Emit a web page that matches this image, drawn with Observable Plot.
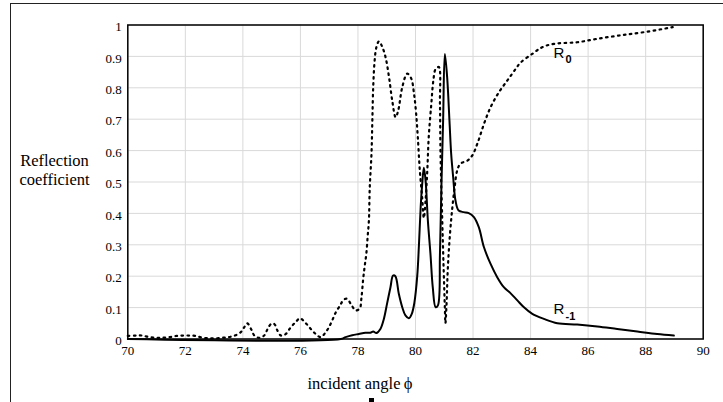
<!DOCTYPE html>
<html>
<head>
<meta charset="utf-8">
<script src="https://cdn.jsdelivr.net/npm/d3@7"></script>
<script src="https://cdn.jsdelivr.net/npm/@observablehq/plot@0.6"></script>
<style>
  html, body { margin: 0; padding: 0; background: #fff; }
  #wrap { position: relative; width: 723px; height: 402px; overflow: hidden; background: #fff; }
  #outer { position: absolute; left: 10px; top: 3px; width: 800px; height: 500px; border-left: 1px solid #222; border-top: 1px solid #222; }
  #chart { position: absolute; left: 0; top: 0; }
  #chart g[aria-label$="tick label"] { font-family: "Liberation Serif", "Times New Roman", serif; }
  .lbl { position: absolute; font-family: "Liberation Serif", "Times New Roman", serif; font-size: 16px; color: #000; white-space: nowrap; }
  #ylab { left: 0; width: 109px; top: 151px; line-height: 19px; text-align: center; font-size: 16.5px; }
  #xlab { left: 250px; width: 220px; top: 375.6px; line-height: 16px; text-align: center; font-size: 16.5px; }
  #tick { position: absolute; left: 369px; top: 398px; width: 5px; height: 5px; background: #000; }
</style>
</head>
<body>
<div id="wrap">
  <div id="outer"></div>
  <div id="chart"></div>
  <div class="lbl" id="ylab">Reflection<br>coefficient</div>
  <div class="lbl" id="xlab">incident angle&#8201;ϕ</div>
  <div id="tick"></div>
</div>
<script>
// Tick values
const xTicks = [70, 72, 74, 76, 78, 80, 82, 84, 86, 88, 90];
const yTicks = [0, 0.1, 0.2, 0.3, 0.4, 0.5, 0.6, 0.7, 0.8, 0.9, 1];

// R0 (dotted curve)
const angleR0 = [70.0, 70.3, 70.5, 70.75, 71.0, 71.2, 71.45, 71.7, 71.9, 72.15, 72.35, 72.6, 72.85, 73.05, 73.3, 73.5, 73.72, 73.93, 74.05, 74.15, 74.3, 74.4, 74.57, 74.74, 74.86, 74.98, 75.09, 75.2, 75.32, 75.49, 75.67, 75.84, 75.98, 76.19, 76.36, 76.53, 76.7, 76.92, 77.08, 77.23, 77.38, 77.5, 77.62, 77.78, 77.92, 78.06, 78.12, 78.18, 78.23, 78.29, 78.34, 78.38, 78.41, 78.47, 78.5, 78.53, 78.58, 78.64, 78.73, 78.85, 78.96, 79.08, 79.19, 79.31, 79.4, 79.54, 79.71, 79.85, 79.95, 80.02, 80.08, 80.15, 80.23, 80.29, 80.35, 80.41, 80.46, 80.55, 80.62, 80.7, 80.81, 80.85, 80.87, 80.93, 80.98, 81.02, 81.04, 81.08, 81.12, 81.19, 81.27, 81.36, 81.45, 81.56, 81.8, 81.97, 82.15, 82.38, 82.61, 82.9, 83.19, 83.48, 83.65, 84.09, 84.4, 84.81, 85.62, 86.31, 87.12, 87.93, 88.94];
const valueR0 = [0.01, 0.011, 0.011, 0.006, 0.004, 0.004, 0.006, 0.01, 0.011, 0.011, 0.01, 0.004, 0.002, 0.002, 0.004, 0.006, 0.011, 0.022, 0.038, 0.05, 0.029, 0.011, 0.004, 0.011, 0.032, 0.048, 0.048, 0.027, 0.011, 0.016, 0.038, 0.054, 0.066, 0.05, 0.032, 0.016, 0.006, 0.027, 0.054, 0.085, 0.107, 0.125, 0.128, 0.107, 0.091, 0.097, 0.13, 0.19, 0.229, 0.271, 0.33, 0.377, 0.483, 0.59, 0.696, 0.802, 0.887, 0.929, 0.948, 0.929, 0.897, 0.834, 0.76, 0.706, 0.728, 0.802, 0.845, 0.83, 0.78, 0.72, 0.643, 0.537, 0.452, 0.385, 0.441, 0.537, 0.643, 0.749, 0.823, 0.86, 0.866, 0.749, 0.59, 0.377, 0.218, 0.1, 0.05, 0.113, 0.218, 0.324, 0.409, 0.483, 0.537, 0.558, 0.568, 0.584, 0.622, 0.685, 0.738, 0.786, 0.823, 0.86, 0.88, 0.91, 0.929, 0.94, 0.945, 0.956, 0.967, 0.977, 0.993];

// R-1 (solid curve)
const angleR1 = [70, 77.4, 77.57, 77.8, 78.03, 78.26, 78.43, 78.53, 78.64, 78.78, 78.9, 79.01, 79.13, 79.22, 79.3, 79.42, 79.54, 79.65, 79.77, 79.87, 79.96, 80.06, 80.12, 80.18, 80.23, 80.29, 80.35, 80.43, 80.52, 80.6, 80.7, 80.78, 80.85, 80.9, 80.96, 81.02, 81.1, 81.18, 81.24, 81.31, 81.39, 81.5, 81.68, 81.85, 82.03, 82.2, 82.38, 82.61, 82.84, 83.07, 83.3, 83.54, 83.77, 84.06, 84.46, 84.93, 85.62, 86.32, 87.01, 87.71, 88.4, 88.98];
const valueR1 = [0, 0, 0.006, 0.012, 0.016, 0.02, 0.02, 0.024, 0.019, 0.032, 0.064, 0.112, 0.165, 0.202, 0.2, 0.144, 0.101, 0.075, 0.066, 0.08, 0.115, 0.2, 0.3, 0.42, 0.49, 0.545, 0.505, 0.377, 0.271, 0.165, 0.101, 0.107, 0.271, 0.483, 0.696, 0.908, 0.834, 0.696, 0.59, 0.515, 0.441, 0.409, 0.404, 0.401, 0.388, 0.356, 0.292, 0.239, 0.197, 0.165, 0.146, 0.123, 0.101, 0.08, 0.064, 0.05, 0.046, 0.04, 0.032, 0.024, 0.016, 0.011];

// Curve labels
const labelX = [84.8, 84.8];
const labelY = [0.911, 0.094];
const labelMain = ["R", "R"];
const labelSub = ["0", "-1"];

const r0 = angleR0.map((a, i) => ({angle: a, value: valueR0[i]}));
const r1 = angleR1.map((a, i) => ({angle: a, value: valueR1[i]}));
const labels = labelX.map((x, i) => ({x, y: labelY[i], main: labelMain[i], sub: labelSub[i]}));

const serif = "Liberation Serif";
const sans = "Liberation Sans";

const chart = Plot.plot({
  width: 723,
  height: 402,
  marginLeft: 127.3,
  marginRight: 20.3,
  marginTop: 24.5,
  marginBottom: 63.5,
  x: {domain: [70, 90]},
  y: {domain: [0, 1]},
  style: {fontFamily: serif, fontSize: "13px", color: "#000", background: "transparent", overflow: "visible"},
  marks: [
    Plot.gridX(xTicks, {stroke: "#d9d9d9", strokeOpacity: 1, strokeWidth: 1}),
    Plot.gridY(yTicks, {stroke: "#d9d9d9", strokeOpacity: 1, strokeWidth: 1}),
    Plot.axisX(xTicks, {tickSize: 0, tickPadding: 7, label: null, fontFamily: serif, fontSize: 13, tickFormat: d => String(d)}),
    Plot.axisY(yTicks, {tickSize: 0, tickPadding: 6, label: null, dy: 2, fontFamily: serif, fontSize: 13, tickFormat: d => String(d)}),
    Plot.frame({stroke: "#000", strokeWidth: 1.5}),
    Plot.line(r0, {x: "angle", y: "value", curve: "catmull-rom", stroke: "#000", strokeWidth: 2.2, strokeDasharray: "1.6,4.4"}),
    Plot.line(r1, {x: "angle", y: "value", curve: "catmull-rom", stroke: "#000", strokeWidth: 2}),
    Plot.text(labels, {x: "x", y: "y", text: "main", textAnchor: "start", fontFamily: sans, fontSize: 15, fill: "#000"}),
    Plot.text(labels, {x: "x", y: "y", text: "sub", textAnchor: "start", dx: 12, dy: 6.5, fontFamily: sans, fontSize: 11, fontWeight: "bold", fill: "#000"})
  ]
});
document.getElementById("chart").appendChild(chart);
</script>
</body>
</html>
